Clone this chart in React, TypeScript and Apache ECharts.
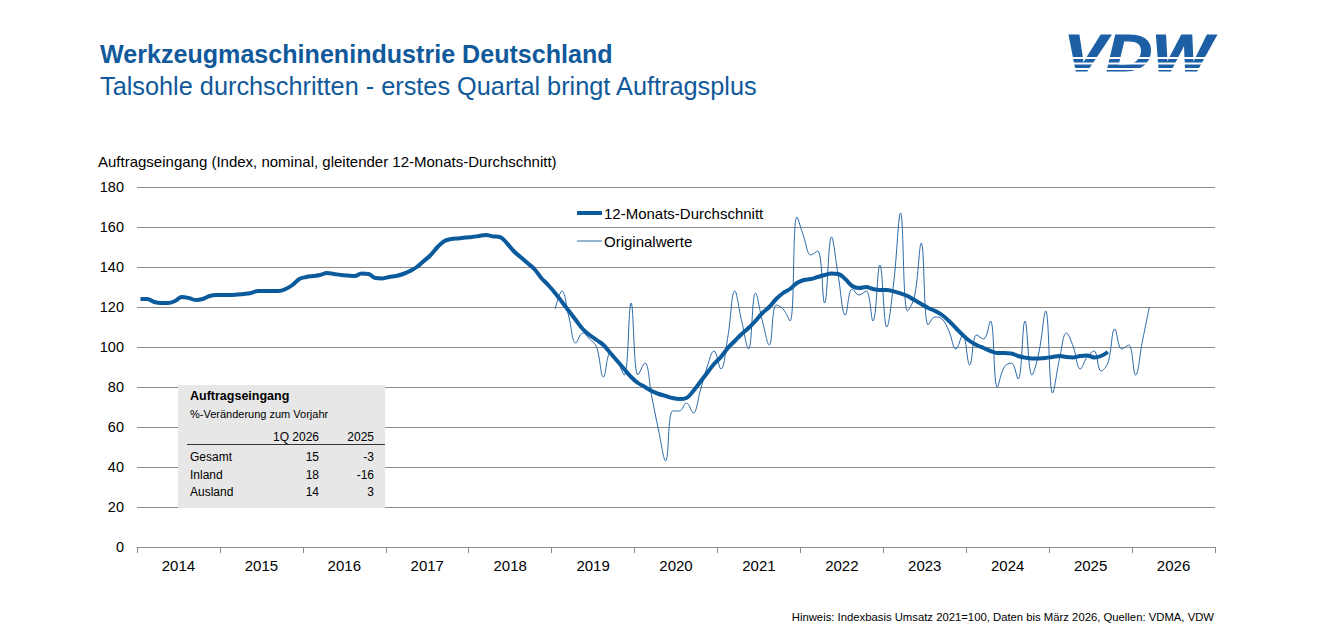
import React, { useEffect, useRef } from "react";
import * as echarts from "echarts";

const years = ["2014","2015","2016","2017","2018","2019","2020","2021","2022","2023","2024","2025","2026"];
const months = years.flatMap((y) => ["01","02","03","04","05","06","07","08","09","10","11","12"].map((m) => `${y}-${m}`));

// 12-Monats-Durchschnitt, Jan 2014 .. Sep 2025
const avgValues = [
  124, 124, 122.5, 122, 122, 123, 125, 124.5, 123.5, 124, 125.5, 126,
  126, 126, 126.2, 126.5, 127, 128, 128, 128, 128, 129, 131, 134,
  135, 135.5, 136, 137, 136.5, 136, 135.7, 135.5, 136.8, 136.5, 134.5, 134.3,
  135, 135.5, 136.5, 138, 140, 143, 146, 150, 153, 154, 154.3, 154.7,
  155, 155.5, 156, 155.3, 155, 152, 148, 145, 142, 139, 134.5, 131,
  127, 122.5, 118, 113.5, 109, 106, 103.5, 101, 97, 93, 89, 85,
  82, 80, 78, 76.5, 75.5, 74.5, 74, 74.5, 78, 82.5, 87, 91.5,
  95, 99.5, 103, 106.5, 109.5, 113, 117, 120, 124, 127, 129, 132,
  133.5, 134, 135, 136, 136.8, 136.5, 134, 130.5, 129.5, 130, 129, 128.5,
  128.5, 127.8, 126.8, 125.5, 123.5, 121.5, 119.5, 118, 116, 113, 109.5, 106,
  103, 101, 99.5, 98, 97, 97, 96.8, 95.5, 94.7, 94.3, 94.3, 94.5,
  95, 95.5, 95, 94.8, 95.5, 95.8, 94.8, 95.5, 97.5
];

// Originalwerte, Jan 2019 .. Mar 2026
const origStartIndex = 60;
const origValues = [
  119, 128, 115, 102, 107, 104, 100, 85, 97, 93, 86, 122,
  86, 92, 75, 58, 43, 68, 68, 72, 67, 78, 90, 98,
  89, 105, 128, 113, 99, 127, 113, 101, 121, 119, 113, 165,
  155, 146, 148, 122, 155, 135, 116, 129, 126, 128, 113, 141,
  110, 132, 167, 118, 125, 152, 111, 115, 114, 108, 99, 106,
  91, 106, 104, 113, 80, 90, 92, 84, 113, 86, 97, 118,
  77, 94, 107, 100, 89, 95, 98, 88, 92, 109, 99, 101,
  86, 103, 120
];

const yTicks = { min: 0, max: 180, interval: 20 };

const tableRows = ["Gesamt", "Inland", "Ausland"];
const tableQ1 = ["15", "18", "14"];
const tableYear = ["-3", "-16", "3"];
const tableHeads = ["1Q 2026", "2025"];

const BLUE = "#0b5a9b";
const FONT = '"Liberation Sans", Arial, sans-serif';

export default function App() {
  const ref = useRef<HTMLDivElement>(null);
  useEffect(() => {
    if (!ref.current) return;
    const chart = echarts.init(ref.current, null, { renderer: "svg" });
    const avgData = months.map((_, i) => (i < avgValues.length ? avgValues[i] : null));
    const origData = months.map((_, i) => {
      const k = i - origStartIndex;
      return k >= 0 && k < origValues.length ? origValues[k] : null;
    });

    const tableGraphics: any[] = [
      { type: "rect", shape: { x: 178, y: 385, width: 207, height: 123 }, style: { fill: "#e7e7e7" }, z: 10 },
      { type: "text", z: 11, style: { x: 190, y: 396, text: "Auftragseingang", font: `bold 12.5px ${FONT}`, fill: "#000", verticalAlign: "middle" } },
      { type: "text", z: 11, style: { x: 190, y: 414, text: "%-Veränderung zum Vorjahr", font: `11px ${FONT}`, fill: "#000", verticalAlign: "middle" } },
      { type: "text", z: 11, style: { x: 319, y: 437, text: tableHeads[0], font: `12px ${FONT}`, fill: "#000", align: "right", verticalAlign: "middle" } },
      { type: "text", z: 11, style: { x: 374, y: 437, text: tableHeads[1], font: `12px ${FONT}`, fill: "#000", align: "right", verticalAlign: "middle" } },
      { type: "line", z: 11, shape: { x1: 187, y1: 444.5, x2: 385, y2: 444.5 }, style: { stroke: "#333", lineWidth: 1 } },
    ];
    tableRows.forEach((r, i) => {
      const y = 457 + i * 17.5;
      tableGraphics.push(
        { type: "text", z: 11, style: { x: 190, y, text: r, font: `12px ${FONT}`, fill: "#000", verticalAlign: "middle" } },
        { type: "text", z: 11, style: { x: 319, y, text: tableQ1[i], font: `12px ${FONT}`, fill: "#000", align: "right", verticalAlign: "middle" } },
        { type: "text", z: 11, style: { x: 374, y, text: tableYear[i], font: `12px ${FONT}`, fill: "#000", align: "right", verticalAlign: "middle" } }
      );
    });

    const logo: any = {
      type: "group",
      children: [
        { type: "text", x: 1064, y: 79, scaleX: 1.22, style: { x: 0, y: 0, text: "VDW", font: `italic 900 52px ${FONT}`, fill: "#1c5fa5", stroke: "#1c5fa5", lineWidth: 1.2, verticalAlign: "bottom" } },
        { type: "rect", shape: { x: 1060, y: 57, width: 160, height: 2 }, style: { fill: "#fff" } },
        { type: "rect", shape: { x: 1060, y: 62.5, width: 160, height: 2 }, style: { fill: "#fff" } },
        { type: "rect", shape: { x: 1060, y: 68, width: 160, height: 2 }, style: { fill: "#fff" } },
      ],
    };

    chart.setOption({
      animation: false,
      backgroundColor: "#fff",
      textStyle: { fontFamily: FONT },
      grid: { left: 137, right: 105, top: 187, bottom: 89, containLabel: false },
      legend: [
        {
          data: [{ name: "12-Monats-Durchschnitt", icon: "rect" }],
          left: 572, top: 200.5, itemWidth: 25, itemHeight: 4, itemGap: 4,
          textStyle: { fontSize: 15, color: "#000", fontFamily: FONT, padding: [0, 0, 0, -3] },
          selectedMode: false,
        },
        {
          data: [{ name: "Originalwerte", icon: "rect" }],
          left: 572, top: 228.5, itemWidth: 25, itemHeight: 1, itemGap: 4,
          textStyle: { fontSize: 15, color: "#000", fontFamily: FONT, padding: [0, 0, 0, -3] },
          selectedMode: false,
        },
      ],
      xAxis: [
        {
          type: "category",
          data: months,
          boundaryGap: true,
          axisLine: { show: true, lineStyle: { color: "#8c8c8c", width: 1 } },
          axisTick: { show: true, interval: 11, length: 6, lineStyle: { color: "#8c8c8c" } },
          axisLabel: { show: false },
          splitLine: { show: false },
        },
        {
          type: "category",
          data: years,
          boundaryGap: true,
          position: "bottom",
          axisLine: { show: false },
          axisTick: { show: false },
          axisLabel: { show: true, fontSize: 15, color: "#000", margin: 11, fontFamily: FONT },
          splitLine: { show: false },
        },
      ],
      yAxis: {
        type: "value",
        min: yTicks.min,
        max: yTicks.max,
        interval: yTicks.interval,
        name: "Auftragseingang (Index, nominal, gleitender 12-Monats-Durchschnitt)",
        nameLocation: "end",
        nameGap: 18,
        nameTextStyle: { fontSize: 15, color: "#000", align: "left", padding: [0, 0, 0, -39], fontFamily: FONT },
        axisLine: { show: false },
        axisTick: { show: false },
        axisLabel: { fontSize: 14.5, color: "#000", margin: 13, fontFamily: FONT },
        splitLine: { show: true, lineStyle: { color: "#8c8c8c", width: 1 } },
      },
      series: [
        {
          name: "Originalwerte",
          type: "line",
          data: origData,
          smooth: 0.4,
          showSymbol: false,
          symbol: "none",
          lineStyle: { width: 1, color: "#2b6aa8" },
          itemStyle: { color: "#2b6aa8" },
          z: 2,
        },
        {
          name: "12-Monats-Durchschnitt",
          type: "line",
          data: avgData,
          smooth: 0.4,
          showSymbol: false,
          symbol: "none",
          lineStyle: { width: 4, color: BLUE },
          itemStyle: { color: BLUE },
          z: 3,
        },
      ],
      graphic: [
        { type: "text", style: { x: 100, y: 54, text: "Werkzeugmaschinenindustrie Deutschland", font: `bold 25.1px ${FONT}`, fill: "#10599a", verticalAlign: "middle" } },
        { type: "text", style: { x: 100, y: 86, text: "Talsohle durchschritten - erstes Quartal bringt Auftragsplus", font: `25.3px ${FONT}`, fill: "#10599a", verticalAlign: "middle" } },
        logo,
        ...tableGraphics,
        { type: "text", style: { x: 1214, y: 617, text: "Hinweis: Indexbasis Umsatz 2021=100, Daten bis März 2026, Quellen: VDMA, VDW", font: `11.3px ${FONT}`, fill: "#000", align: "right", verticalAlign: "middle" } },
      ],
    });
    return () => chart.dispose();
  }, []);
  return <div ref={ref} style={{ position: "fixed", left: 0, top: 0, width: 1320, height: 636, background: "#fff" }} />;
}
